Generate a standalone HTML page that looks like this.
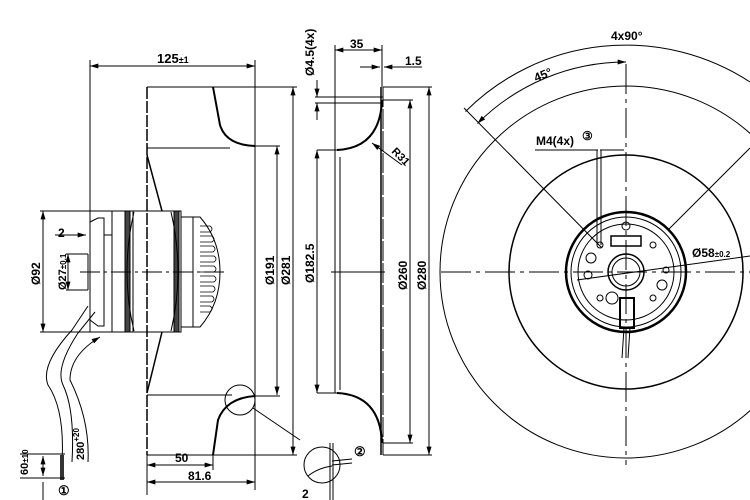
<!DOCTYPE html>
<html><head><style>body{margin:0;background:#fff}svg{display:block}text{font-family:"Liberation Sans",sans-serif;font-weight:bold;fill:#000}</style></head><body>
<svg width="750" height="500" viewBox="0 0 750 500" xmlns="http://www.w3.org/2000/svg">
<defs><marker id="a" viewBox="0 0 10 6" refX="10" refY="3" markerWidth="9" markerHeight="5" orient="auto-start-reverse"><path d="M0,0L10,3L0,6z" fill="#000"/></marker></defs>
<g stroke="#000" fill="none" stroke-width="1">
<!-- LEFT VIEW -->
<line x1="90" y1="66" x2="255" y2="66" marker-start="url(#a)" marker-end="url(#a)"/>
<line x1="90" y1="60" x2="90" y2="218"/><line x1="255" y1="60" x2="255" y2="490"/>
<line x1="147" y1="87" x2="147" y2="455" stroke-width="1.5" stroke-dasharray="12,2"/>
<line x1="147" y1="87" x2="213" y2="87"/><line x1="213" y1="87" x2="297" y2="87"/>
<path d="M213,87 L220,125 Q226,145 255,146" stroke-width="2"/>
<line x1="147" y1="148" x2="230" y2="148"/>
<line x1="255" y1="146" x2="280" y2="146"/>
<line x1="147" y1="395" x2="232" y2="395"/>
<path d="M213,455 L218,420 Q226,398 255,396" stroke-width="2"/>
<line x1="255" y1="396" x2="280" y2="396"/>
<line x1="147" y1="455" x2="297" y2="455"/>
<line x1="277" y1="146" x2="277" y2="395" marker-start="url(#a)" marker-end="url(#a)"/>
<line x1="293" y1="87" x2="293" y2="455" marker-start="url(#a)" marker-end="url(#a)"/>
<line x1="147" y1="155" x2="162" y2="211" stroke-width="1.5"/><line x1="162" y1="332" x2="147" y2="393" stroke-width="1.5"/>
<!-- motor -->
<rect x="90" y="211" width="91" height="121"/>
<path d="M90,222 L98,218 L104,218 L104,326 L98,326 L90,320"/>
<line x1="112" y1="211" x2="112" y2="332"/>
<rect x="125" y="211" width="5" height="121" fill="#444"/>
<line x1="133" y1="211" x2="133" y2="332"/>
<rect x="174" y="211" width="5" height="121" fill="#444"/>
<path d="M134,212 Q120,272 134,331 M171,212 Q185,272 171,331"/>
<path d="M181,217 L200,217 Q220,240 220,272 Q220,304 200,327 L181,327"/>
<line x1="193" y1="217" x2="193" y2="327"/>
<g stroke-width="0.8"><path d="M200,226 h10 q4,3 0,6 h-10 M200,236 h12 q4,3 0,6 h-12 M200,246 h13 q4,3 0,6 h-13 M200,256 h14 q4,3 0,6 h-14 M200,266 h14 q4,3 0,6 h-14 M200,276 h14 q4,3 0,6 h-14 M200,286 h13 q4,3 0,6 h-13 M200,296 h12 q4,3 0,6 h-12 M200,306 h10 q4,3 0,6 h-10"/></g>
<line x1="80" y1="272" x2="225" y2="272" stroke-dasharray="20,4,3,4"/>
<!-- dims Ø92, 2, Ø27 -->
<line x1="43" y1="211" x2="43" y2="332" marker-start="url(#a)" marker-end="url(#a)"/>
<line x1="40" y1="211" x2="90" y2="211"/><line x1="40" y1="332" x2="90" y2="332"/>
<line x1="55" y1="235" x2="86" y2="235" marker-end="url(#a)"/><line x1="112" y1="235" x2="104" y2="235"/>
<line x1="66" y1="254" x2="88" y2="254"/><line x1="66" y1="290" x2="88" y2="290"/>
<line x1="88" y1="254" x2="88" y2="290"/>
<line x1="68" y1="254" x2="68" y2="290" marker-start="url(#a)" marker-end="url(#a)"/>
<!-- cable -->
<path d="M88,306 L72,330 Q40,365 48,385 Q65,410 62,462"/>
<path d="M95,312 L78,333 Q55,368 63,385 Q75,410 72,462"/>
<path d="M100,337 Q70,355 70,380 Q90,420 88,462" marker-start="url(#a)"/>
<line x1="62" y1="455" x2="62" y2="480" stroke-width="4" stroke="#333"/>
<line x1="20" y1="454" x2="65" y2="454"/><line x1="20" y1="478" x2="65" y2="478"/>
<line x1="43" y1="456" x2="43" y2="476" marker-start="url(#a)" marker-end="url(#a)"/>
<line x1="43" y1="482" x2="43" y2="500"/>
<circle cx="240" cy="400" r="15"/>
<line x1="253" y1="408" x2="300" y2="440"/>
<line x1="147" y1="465" x2="213" y2="465" marker-start="url(#a)" marker-end="url(#a)"/>
<line x1="213" y1="455" x2="213" y2="470"/>
<line x1="147" y1="482" x2="255" y2="482" marker-start="url(#a)" marker-end="url(#a)"/>
<line x1="147" y1="455" x2="147" y2="495"/>
<!-- MIDDLE VIEW -->
<line x1="315" y1="97" x2="383" y2="97"/><line x1="315" y1="103" x2="383" y2="103"/>
<line x1="317" y1="80" x2="317" y2="97" marker-end="url(#a)"/><line x1="317" y1="120" x2="317" y2="103" marker-end="url(#a)"/>
<line x1="335" y1="50" x2="382" y2="50" marker-start="url(#a)" marker-end="url(#a)"/>
<line x1="335" y1="45" x2="335" y2="150"/><line x1="382" y1="45" x2="382" y2="87"/>
<line x1="360" y1="67" x2="380" y2="67" marker-end="url(#a)"/><line x1="400" y1="67" x2="384" y2="67" marker-end="url(#a)"/><line x1="400" y1="67" x2="422" y2="67"/>
<line x1="381" y1="87" x2="381" y2="455" stroke-width="1.5"/><line x1="383" y1="87" x2="383" y2="455" stroke-dasharray="20,2"/>
<line x1="383" y1="87" x2="432" y2="87"/><line x1="383" y1="100" x2="413" y2="100"/>
<path d="M382,100 Q380,148 337,150" stroke-width="2"/>
<path d="M382,443 Q380,395 337,393" stroke-width="2"/>
<line x1="383" y1="443" x2="413" y2="443"/><line x1="383" y1="455" x2="432" y2="455"/>
<line x1="335" y1="150" x2="335" y2="393"/><line x1="340" y1="157" x2="340" y2="390"/>
<line x1="317" y1="150" x2="337" y2="150"/><line x1="317" y1="393" x2="337" y2="393"/>
<line x1="317" y1="150" x2="317" y2="393" marker-start="url(#a)" marker-end="url(#a)"/>
<line x1="410" y1="100" x2="410" y2="443" marker-start="url(#a)" marker-end="url(#a)"/>
<line x1="429" y1="87" x2="429" y2="455" marker-start="url(#a)" marker-end="url(#a)"/>
<line x1="331" y1="272" x2="385" y2="272"/>
<line x1="402" y1="165" x2="372" y2="143" marker-end="url(#a)"/>
<circle cx="322" cy="465" r="18"/>
<line x1="330" y1="443" x2="330" y2="500"/><line x1="333" y1="443" x2="333" y2="500"/>
<path d="M332,461 L352,459 M332,465 L352,463"/><path d="M308,476 Q318,468 332,466"/>
<!-- RIGHT VIEW -->
<circle cx="626" cy="272" r="186"/>
<circle cx="626" cy="272" r="117" stroke-width="1.5"/>
<circle cx="626" cy="272" r="60" stroke-width="2.5"/>
<circle cx="626" cy="272" r="55"/>
<circle cx="626" cy="272" r="48"/>
<circle cx="626" cy="272" r="18" stroke-width="1.5"/>
<circle cx="626" cy="272" r="14"/>
<line x1="441" y1="272" x2="750" y2="272" stroke-dasharray="30,5,4,5"/>
<line x1="626" y1="64" x2="626" y2="465" stroke-dasharray="30,5,4,5"/>
<path d="M465.5,111.5 A227,227 0 0 1 750,82"/>
<path d="M477.5,123.5 A210,210 0 0 1 626,62" marker-start="url(#a)" marker-end="url(#a)"/>
<line x1="464" y1="108" x2="602" y2="248"/>
<line x1="750" y1="148" x2="668" y2="230"/>
<line x1="535" y1="150" x2="598" y2="150"/><line x1="600" y1="150" x2="624" y2="150"/>
<line x1="597" y1="150" x2="597" y2="245"/><line x1="601" y1="150" x2="601" y2="245"/>
<line x1="577" y1="280" x2="750" y2="256"/>
<rect x="611" y="236" width="30" height="10" stroke-width="1.5"/>
<circle cx="600" cy="245" r="3"/><circle cx="653" cy="245" r="3"/><circle cx="600" cy="298" r="3"/><circle cx="653" cy="298" r="3"/>
<circle cx="591" cy="258" r="5"/><circle cx="588" cy="275" r="4"/><circle cx="662" cy="285" r="5"/><circle cx="612" cy="298" r="6"/><circle cx="666" cy="270" r="3"/>
<circle cx="626" cy="226" r="4"/>
<rect x="620" y="298" width="14" height="30" stroke-width="2"/>
<path d="M624,328 L622,358 M630,328 L628,358"/>
</g>
<g font-size="12">
<text x="157" y="63" font-size="13">125<tspan font-size="9">±1</tspan></text>
<text x="58" y="237">2</text>
<text x="40" y="285" transform="rotate(-90 40 285)">Ø92</text>
<text x="66" y="290" transform="rotate(-90 66 290)" font-size="11">Ø27<tspan font-size="8">±0.1</tspan></text>
<text x="274" y="285" transform="rotate(-90 274 285)">Ø191</text>
<text x="290" y="285" transform="rotate(-90 290 285)">Ø281</text>
<text x="175" y="462">50</text>
<text x="188" y="480">81.6</text>
<text x="84" y="460" transform="rotate(-90 84 460)" font-size="11">280<tspan font-size="8" dy="-5">+20</tspan></text>
<text x="28" y="475" transform="rotate(-90 28 475)" font-size="11">60<tspan font-size="8">±10</tspan></text>
<text x="58" y="495" font-weight="normal" font-size="13">①</text>
<text x="314" y="76" transform="rotate(-90 314 76)" font-size="12">Ø4.5(4x)</text>
<text x="350" y="48">35</text>
<text x="405" y="65">1.5</text>
<text x="314" y="283" transform="rotate(-90 314 283)">Ø182.5</text>
<text x="407" y="290" transform="rotate(-90 407 290)">Ø260</text>
<text x="426" y="290" transform="rotate(-90 426 290)">Ø280</text>
<text x="391" y="152" transform="rotate(45 391 152)" font-size="11">R31</text>
<text x="354" y="456" font-weight="normal" font-size="13">②</text>
<text x="302" y="498">2</text>
<text x="611" y="40">4x90°</text>
<text x="536" y="82" transform="rotate(-22 536 82)">45°</text>
<text x="536" y="145">M4(4x)</text>
<text x="582" y="140" font-weight="normal" font-size="12">③</text>
<text x="692" y="257">Ø58<tspan font-size="8">±0.2</tspan></text>
</g>
</svg>
</body></html>
